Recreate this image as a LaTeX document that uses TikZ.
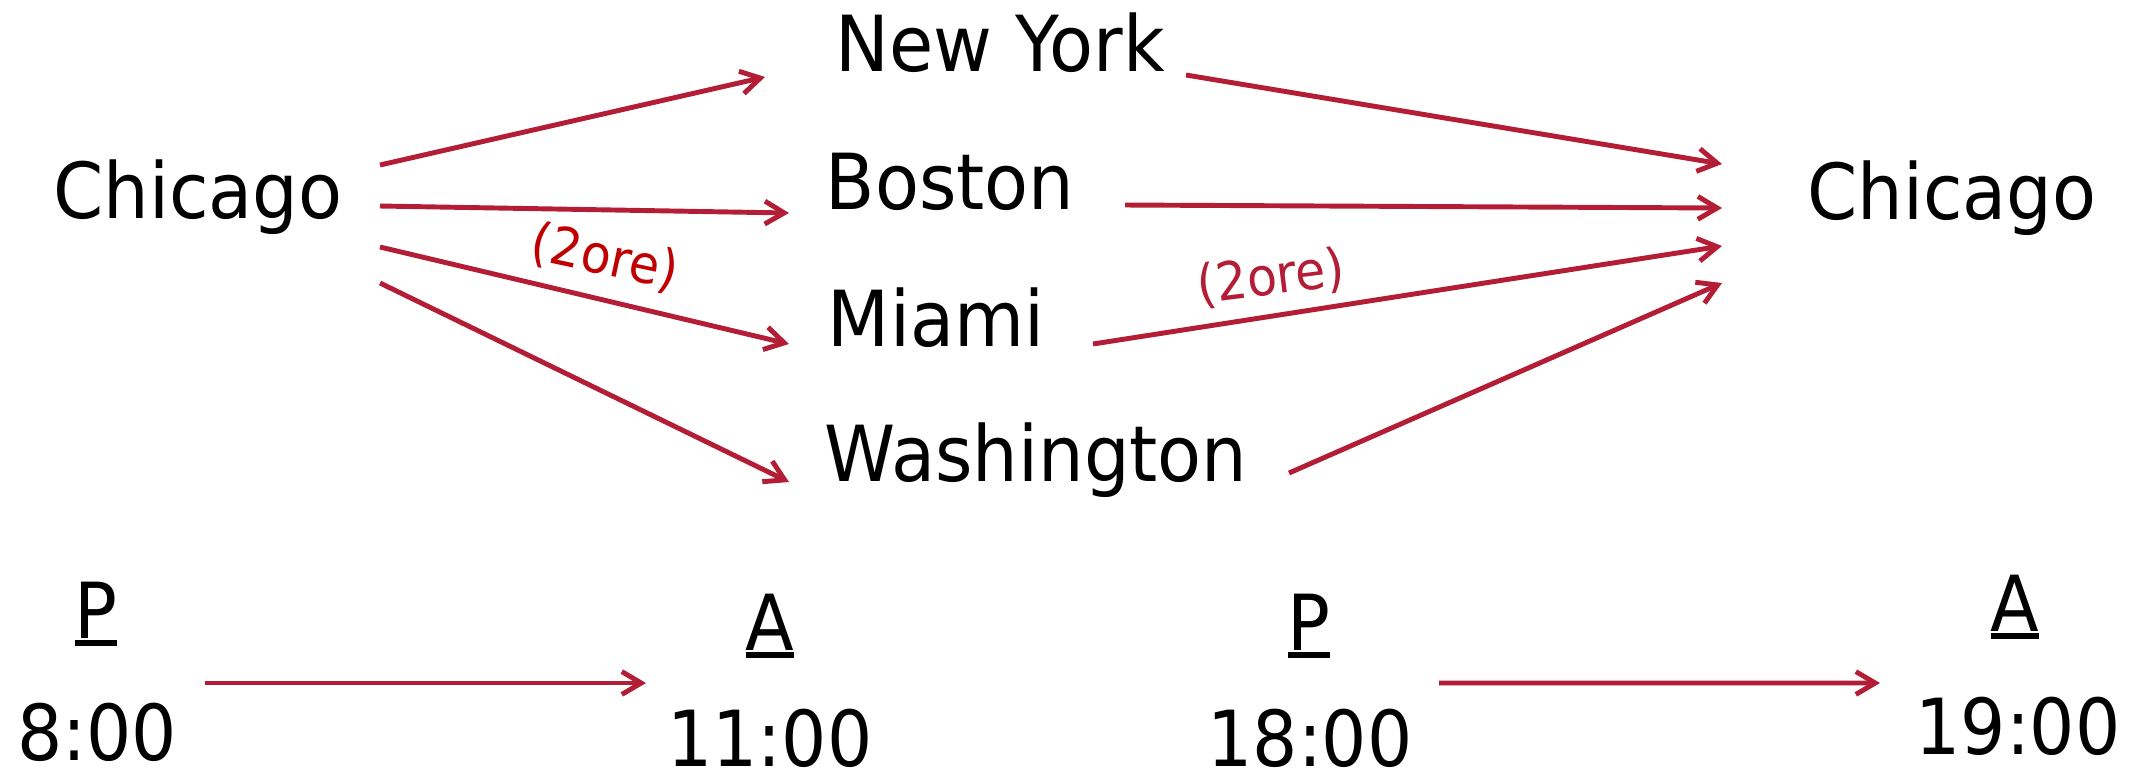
\documentclass[tikz,border=0pt]{standalone}
\usepackage{fontspec}
\setmainfont[FakeStretch=0.93]{DejaVu Sans}
\newfontfamily\timefont[FakeStretch=0.92]{DejaVu Sans}
\usetikzlibrary{arrows.meta}
\definecolor{routered}{HTML}{B31D35}
\definecolor{notered}{HTML}{C00000}
\newcommand{\ulbar}[1]{\setbox0\hbox{#1}\rlap{\rule[-2.2pt]{\wd0}{1.6pt}}\box0}

\begin{document}
\begin{tikzpicture}[
    city/.style={anchor=base,inner sep=0pt,font=\fontsize{22}{26}\selectfont},
    clock/.style={anchor=base,inner sep=0pt,font=\timefont\fontsize{22}{26}\selectfont},
    flight/.style={draw=routered,line width=1.4pt,
                   -{Straight Barb[length=5.5pt,width=6.5pt]}},
    hours/.style={inner sep=0pt,font=\fontsize{15}{17}\selectfont},
    ]

    % Frame
    \useasboundingbox (0,0) rectangle (21.43,7.78);

    % Cities
    \node[city] (chicagoL)   at (1.98,5.60)  {Chicago};
    \node[city] (newyork)    at (10.00,7.07) {New York};
    \node[city] (boston)     at (9.50,5.69)  {Boston};
    \node[city] (miami)      at (9.36,4.32)  {Miami};
    \node[city] (washington) at (10.36,2.97) {Washington};
    \node[city] (chicagoR)   at (19.52,5.59) {Chicago};

    % Outbound flights
    \draw[flight] ([shift={(1.82,0.53)}]chicagoL.base)  -- ([shift={(-2.35,-0.06)}]newyork.base);
    \draw[flight] ([shift={(1.82,0.12)}]chicagoL.base)  -- ([shift={(-1.61,-0.04)}]boston.base);
    \draw[flight] ([shift={(1.82,-0.29)}]chicagoL.base) -- ([shift={(-1.47,0.02)}]miami.base);
    \draw[flight] ([shift={(1.82,-0.65)}]chicagoL.base) -- ([shift={(-2.47,-0.01)}]washington.base);

    % Return flights
    \draw[flight] ([shift={(1.86,-0.04)}]newyork.base)   -- ([shift={(-2.30,0.55)}]chicagoR.base);
    \draw[flight] ([shift={(1.75,0.04)}]boston.base)     -- ([shift={(-2.30,0.11)}]chicagoR.base);
    \draw[flight] ([shift={(1.57,0.02)}]miami.base)      -- ([shift={(-2.30,-0.27)}]chicagoR.base);
    \draw[flight] ([shift={(2.53,0.08)}]washington.base) -- ([shift={(-2.30,-0.64)}]chicagoR.base);

    % Flight times
    \node[hours,text=notered,rotate=-12] (durout) at (6.05,5.20)  {(2ore)};
    \node[hours,text=routered,rotate=7]  (durback) at (12.71,5.00) {(2ore)};

    % Departure / arrival labels
    \node[clock] (dep1) at (0.96,1.40)  {\ulbar{P}};
    \node[clock] (arr1) at (7.70,1.28)  {\ulbar{A}};
    \node[clock] (dep2) at (13.09,1.28) {\ulbar{P}};
    \node[clock] (arr2) at (20.15,1.47) {\ulbar{A}};

    % Times
    \node[clock] (t1) at (0.97,0.18)  {8:00};
    \node[clock] (t2) at (7.70,0.12)  {11:00};
    \node[clock] (t3) at (13.10,0.12) {18:00};
    \node[clock] (t4) at (20.18,0.24) {19:00};

    % Timeline arrows
    \draw[flight] ([shift={(1.08,0.77)}]t1.base) -- ([shift={(-1.24,0.83)}]t2.base);
    \draw[flight] ([shift={(1.29,0.83)}]t3.base) -- ([shift={(-1.38,0.71)}]t4.base);
\end{tikzpicture}
\end{document}
